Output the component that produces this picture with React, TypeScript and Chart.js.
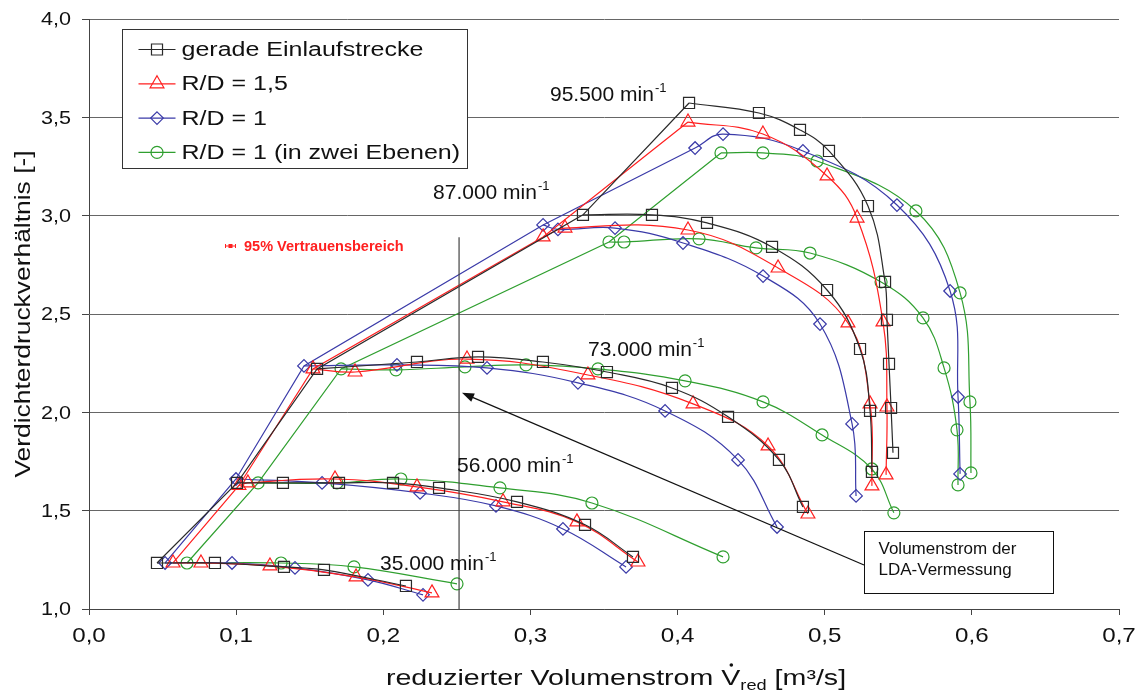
import React, { useEffect, useRef } from 'react';
import { Chart, registerables } from 'chart.js';

Chart.register(...registerables);

type P = [number, number];

// ---------------- data (x: reduced volume flow [m³/s], y: pressure ratio [-]) ----------------
// gerade Einlaufstrecke (black squares)
const gerade35: P[] = [[0.0462, 1.234], [0.0856, 1.234], [0.1325, 1.214], [0.1597, 1.199], [0.2154, 1.117]];
const gerade56: P[] = [[0.1006, 1.641], [0.1318, 1.641], [0.1699, 1.641], [0.2066, 1.641], [0.2379, 1.616], [0.2909, 1.545], [0.3371, 1.428], [0.3697, 1.265]];
const gerade73: P[] = [[0.155, 2.221], [0.2229, 2.256], [0.2644, 2.282], [0.3085, 2.256], [0.352, 2.205], [0.3962, 2.124], [0.4343, 1.977], [0.4689, 1.758], [0.4852, 1.519]];
const gerade87: P[] = [[0.3357, 3.004], [0.3826, 3.004], [0.42, 2.963], [0.4642, 2.841], [0.5016, 2.622], [0.524, 2.322], [0.5308, 2.007], [0.5321, 1.697]];
const gerade95: P[] = [[0.4078, 3.573], [0.4553, 3.522], [0.4832, 3.436], [0.5029, 3.329], [0.5294, 3.049], [0.541, 2.663], [0.5423, 2.47], [0.5437, 2.246], [0.5451, 2.022], [0.5464, 1.794]];

// R/D = 1,5 (red triangles)
const rd15_35: P[] = [[0.0571, 1.234], [0.0761, 1.234], [0.123, 1.219], [0.1815, 1.163], [0.2331, 1.082]];
const rd15_56: P[] = [[0.1019, 1.628], [0.108, 1.641], [0.1672, 1.661], [0.2229, 1.621], [0.2814, 1.545], [0.3316, 1.443], [0.3731, 1.239]];
const rd15_73: P[] = [[0.1522, 2.221], [0.1808, 2.205], [0.2569, 2.271], [0.3391, 2.19], [0.4105, 2.043], [0.4615, 1.829], [0.4886, 1.483]];
const rd15_87: P[] = [[0.3086, 2.892], [0.3235, 2.937], [0.4071, 2.927], [0.4683, 2.734], [0.5158, 2.455], [0.5308, 2.043], [0.5321, 1.626]];
const rd15_95: P[] = [[0.4071, 3.476], [0.458, 3.415], [0.5016, 3.202], [0.522, 2.988], [0.5396, 2.46], [0.5423, 2.027], [0.5417, 1.682]];

// R/D = 1 (blue diamonds)
const rd1_35: P[] = [[0.0517, 1.234], [0.0972, 1.234], [0.14, 1.209], [0.1896, 1.148], [0.227, 1.072]];
const rd1_56: P[] = [[0.0999, 1.661], [0.1584, 1.641], [0.225, 1.59], [0.2766, 1.524], [0.3221, 1.407], [0.365, 1.214]];
const rd1_73: P[] = [[0.1461, 2.236], [0.2093, 2.241], [0.2705, 2.226], [0.3323, 2.15], [0.3915, 2.007], [0.4411, 1.758], [0.4676, 1.417]];
const rd1_87: P[] = [[0.3086, 2.953], [0.3187, 2.93], [0.3575, 2.937], [0.4037, 2.861], [0.4581, 2.693], [0.4968, 2.449], [0.5186, 1.941], [0.5213, 1.575]];
const rd1_95: P[] = [[0.4119, 3.344], [0.4309, 3.415], [0.4852, 3.329], [0.5491, 3.054], [0.5852, 2.617], [0.5906, 2.078], [0.592, 1.687]];

// R/D = 1 (in zwei Ebenen) (green circles)
const rd1z_35: P[] = [[0.0666, 1.234], [0.1305, 1.234], [0.1801, 1.214], [0.2501, 1.128]];
const rd1z_56: P[] = [[0.1149, 1.641], [0.1685, 1.641], [0.212, 1.661], [0.2793, 1.616], [0.3418, 1.539], [0.4309, 1.265]];
const rd1z_73: P[] = [[0.1713, 2.221], [0.2086, 2.216], [0.2555, 2.231], [0.297, 2.241], [0.3459, 2.221], [0.4051, 2.16], [0.4581, 2.053], [0.4982, 1.885], [0.532, 1.712], [0.547, 1.489]];
const rd1z_87: P[] = [[0.3534, 2.866], [0.3636, 2.866], [0.4146, 2.882], [0.4533, 2.836], [0.49, 2.81], [0.5383, 2.663], [0.5668, 2.48], [0.5811, 2.226], [0.5899, 1.911], [0.5906, 1.631]];
const rd1z_95: P[] = [[0.4295, 3.319], [0.458, 3.319], [0.4948, 3.278], [0.562, 3.024], [0.592, 2.607], [0.5987, 2.053], [0.5994, 1.692]];

const seriesNames = ['gerade Einlaufstrecke', 'R/D = 1,5', 'R/D = 1', 'R/D = 1 (in zwei Ebenen)'];
const speedLabels = ['95.500 min', '87.000 min', '73.000 min', '56.000 min', '35.000 min'];
const xTickLabels = ['0,0', '0,1', '0,2', '0,3', '0,4', '0,5', '0,6', '0,7'];
const yTickLabels = ['1,0', '1,5', '2,0', '2,5', '3,0', '3,5', '4,0'];
const ldaLineX = [0.2515, 0.2515];
const ldaLineY = [2.89, 1.0];

// ---------------- styles / annotation placement ----------------
const FONT = "'Liberation Sans', Arial, Helvetica, sans-serif";
const STYLES = [
  { color: '#2a2a2a', point: 'rect', radius: 7.8 },
  { color: '#ff1f1f', point: 'triangle', radius: 8 },
  { color: '#3a3aa8', point: 'rectRot', radius: 6.3 },
  { color: '#2f9f2f', point: 'circle', radius: 6 },
];
const SPEED_POS: P[] = [[0.3133, 3.583], [0.2338, 3.085], [0.3391, 2.287], [0.2501, 1.697], [0.1978, 1.199]];
const ARROW_TIP: P = [0.2535, 2.099];
const ARROW_TAIL: P = [0.5267, 1.224];
const BOX = { x0: 0.5267, y0: 1.397, x1: 0.6551, y1: 1.082 };

function sText(
  ctx: CanvasRenderingContext2D, text: string, x: number, y: number,
  font: string, sx: number, align: 'left' | 'center' | 'right', color: string,
  baseline: CanvasTextBaseline = 'middle'
): number {
  ctx.save();
  ctx.font = font;
  ctx.fillStyle = color;
  ctx.textBaseline = baseline;
  ctx.textAlign = 'left';
  const w = ctx.measureText(text).width * sx;
  const x0 = align === 'left' ? x : align === 'center' ? x - w / 2 : x - w;
  ctx.translate(x0, y);
  ctx.scale(sx, 1);
  ctx.fillText(text, 0, 0);
  ctx.restore();
  return w;
}

function drawMarker(ctx: CanvasRenderingContext2D, style: string, x: number, y: number, r: number, color: string) {
  ctx.save();
  ctx.strokeStyle = color;
  ctx.lineWidth = 1.2;
  ctx.beginPath();
  if (style === 'rect') {
    const s = r * Math.SQRT1_2;
    ctx.rect(x - s, y - s, 2 * s, 2 * s);
  } else if (style === 'triangle') {
    for (let i = 0; i < 3; i++) {
      const a = (i * 2 * Math.PI) / 3;
      const px = x + Math.sin(a) * r;
      const py = y - Math.cos(a) * r;
      if (i === 0) ctx.moveTo(px, py); else ctx.lineTo(px, py);
    }
    ctx.closePath();
  } else if (style === 'rectRot') {
    ctx.moveTo(x, y - r); ctx.lineTo(x + r, y); ctx.lineTo(x, y + r); ctx.lineTo(x - r, y); ctx.closePath();
  } else {
    ctx.arc(x, y, r, 0, Math.PI * 2);
  }
  ctx.stroke();
  ctx.restore();
}

const overlayPlugin = {
  id: 'overlay',
  afterDraw(chart: any) {
    const ctx: CanvasRenderingContext2D = chart.ctx;
    const xs = chart.scales.x;
    const ys = chart.scales.y;
    const X = (v: number) => xs.getPixelForValue(v);
    const Y = (v: number) => ys.getPixelForValue(v);
    const area = chart.chartArea;

    // tick labels
    xs.ticks.forEach((t: any, i: number) => {
      sText(ctx, xTickLabels[i] ?? '', X(t.value), area.bottom + 27, `21px ${FONT}`, 1.15, 'center', '#111');
    });
    ys.ticks.forEach((t: any, i: number) => {
      sText(ctx, yTickLabels[i] ?? '', area.left - 18, Y(t.value) + 1.5, `18px ${FONT}`, 1.2, 'right', '#111');
    });

    // x title with V-dot and subscript
    {
      const mainF = `22px ${FONT}`;
      const subF = `14px ${FONT}`;
      const sx = 1.3;
      ctx.save();
      ctx.font = mainF;
      const w1 = ctx.measureText('reduzierter Volumenstrom ').width * sx;
      const wV = ctx.measureText('V').width * sx;
      const w3 = ctx.measureText(' [m³/s]').width * sx;
      ctx.font = subF;
      const w2 = ctx.measureText('red').width * sx;
      ctx.restore();
      const total = w1 + wV + w2 + w3;
      const cx = (area.left + area.right) / 2 + 12;
      const by = 685;
      let x = cx - total / 2;
      sText(ctx, 'reduzierter Volumenstrom ', x, by, mainF, sx, 'left', '#111', 'alphabetic');
      x += w1;
      sText(ctx, 'V', x, by, mainF, sx, 'left', '#111', 'alphabetic');
      ctx.save();
      ctx.fillStyle = '#111';
      ctx.beginPath();
      ctx.arc(x + wV / 2 + 0.5, by - 20, 1.8, 0, Math.PI * 2);
      ctx.fill();
      ctx.restore();
      x += wV;
      sText(ctx, 'red', x, by + 5, subF, sx, 'left', '#111', 'alphabetic');
      x += w2;
      sText(ctx, ' [m³/s]', x, by, mainF, sx, 'left', '#111', 'alphabetic');
    }

    // y title
    ctx.save();
    ctx.translate(24, (area.top + area.bottom) / 2);
    ctx.rotate(-Math.PI / 2);
    sText(ctx, 'Verdichterdruckverhältnis [-]', 0, 0, `22px ${FONT}`, 1.2, 'center', '#111');
    ctx.restore();

    // speed labels
    speedLabels.forEach((s, i) => {
      const [vx, vy] = SPEED_POS[i];
      const w = sText(ctx, s, X(vx), Y(vy), `21px ${FONT}`, 1.0, 'left', '#111', 'alphabetic');
      sText(ctx, '-1', X(vx) + w + 1, Y(vy) - 9, `13px ${FONT}`, 1.0, 'left', '#111', 'alphabetic');
    });

    // 95% Vertrauensbereich
    {
      const lx = area.left + 136;
      const ly = area.top + 227;
      ctx.save();
      ctx.strokeStyle = '#ff2020';
      ctx.fillStyle = '#ff2020';
      ctx.lineWidth = 1;
      ctx.beginPath();
      ctx.moveTo(lx, ly); ctx.lineTo(lx + 11, ly);
      ctx.moveTo(lx + 0.5, ly - 2); ctx.lineTo(lx + 0.5, ly + 2);
      ctx.moveTo(lx + 10.5, ly - 2); ctx.lineTo(lx + 10.5, ly + 2);
      ctx.stroke();
      ctx.fillRect(lx + 3.5, ly - 2, 4, 4);
      ctx.restore();
      sText(ctx, '95% Vertrauensbereich', lx + 19, ly + 1, `bold 14.5px ${FONT}`, 1.0, 'left', '#ff2020');
    }

    // arrow
    {
      const tx = X(ARROW_TIP[0]), ty = Y(ARROW_TIP[1]);
      const fx = X(ARROW_TAIL[0]), fy = Y(ARROW_TAIL[1]);
      const ang = Math.atan2(ty - fy, tx - fx);
      const L = 12, H = 4.5;
      ctx.save();
      ctx.strokeStyle = '#111';
      ctx.fillStyle = '#111';
      ctx.lineWidth = 1.2;
      ctx.beginPath();
      ctx.moveTo(fx, fy);
      ctx.lineTo(tx - Math.cos(ang) * L * 0.8, ty - Math.sin(ang) * L * 0.8);
      ctx.stroke();
      ctx.beginPath();
      ctx.moveTo(tx, ty);
      ctx.lineTo(tx - Math.cos(ang) * L - Math.sin(ang) * H, ty - Math.sin(ang) * L + Math.cos(ang) * H);
      ctx.lineTo(tx - Math.cos(ang) * L + Math.sin(ang) * H, ty - Math.sin(ang) * L - Math.cos(ang) * H);
      ctx.closePath();
      ctx.fill();
      ctx.restore();
    }

    // annotation box
    {
      const bx0 = Math.round(X(BOX.x0)) + 0.5, by0 = Math.round(Y(BOX.y0)) + 0.5;
      const bx1 = Math.round(X(BOX.x1)) + 0.5, by1 = Math.round(Y(BOX.y1)) + 0.5;
      ctx.save();
      ctx.fillStyle = '#fff';
      ctx.strokeStyle = '#111';
      ctx.lineWidth = 1;
      ctx.fillRect(bx0, by0, bx1 - bx0, by1 - by0);
      ctx.strokeRect(bx0, by0, bx1 - bx0, by1 - by0);
      ctx.restore();
      sText(ctx, 'Volumenstrom der', bx0 + 14, by0 + 18, `17px ${FONT}`, 1.0, 'left', '#111');
      sText(ctx, 'LDA-Vermessung', bx0 + 14, by0 + 39, `17px ${FONT}`, 1.0, 'left', '#111');
    }

    // legend
    {
      const lx0 = area.left + 33.5, ly0 = area.top + 10.5, lw = 345, lh = 139;
      ctx.save();
      ctx.fillStyle = '#fff';
      ctx.strokeStyle = '#333';
      ctx.lineWidth = 1;
      ctx.fillRect(lx0, ly0, lw, lh);
      ctx.strokeRect(lx0, ly0, lw, lh);
      ctx.restore();
      seriesNames.forEach((name, i) => {
        const st = STYLES[i];
        const yy = ly0 + 20 + i * 34.3;
        ctx.save();
        ctx.strokeStyle = st.color;
        ctx.lineWidth = 1.2;
        ctx.beginPath();
        ctx.moveTo(lx0 + 16, yy);
        ctx.lineTo(lx0 + 53, yy);
        ctx.stroke();
        ctx.restore();
        drawMarker(ctx, st.point, lx0 + 34.5, yy, st.radius, st.color);
        sText(ctx, name, lx0 + 59, yy + 1, `20px ${FONT}`, 1.25, 'left', '#111');
      });
    }
  },
};

export default function App() {
  const ref = useRef<HTMLCanvasElement | null>(null);
  useEffect(() => {
    document.body.style.margin = '0';
    const canvas = ref.current;
    if (!canvas) return;
    const groups: P[][][] = [
      [gerade35, gerade56, gerade73, gerade87, gerade95],
      [rd15_35, rd15_56, rd15_73, rd15_87, rd15_95],
      [rd1_35, rd1_56, rd1_73, rd1_87, rd1_95],
      [rd1z_35, rd1z_56, rd1z_73, rd1z_87, rd1z_95],
    ];
    const datasets: any[] = [];
    datasets.push({
      label: 'LDA',
      data: ldaLineX.map((x, i) => ({ x, y: ldaLineY[i] })),
      borderColor: '#444',
      borderWidth: 1.2,
      pointRadius: 0,
      showLine: true,
      tension: 0,
    });
    groups.forEach((lines, gi) => {
      const st = STYLES[gi];
      lines.forEach((ln) => {
        datasets.push({
          label: seriesNames[gi],
          data: ln.map(([x, y]) => ({ x, y })),
          borderColor: st.color,
          backgroundColor: 'rgba(0,0,0,0)',
          pointBackgroundColor: 'rgba(0,0,0,0)',
          pointBorderColor: st.color,
          pointBorderWidth: 1.2,
          pointStyle: st.point,
          pointRadius: st.radius,
          borderWidth: 1.2,
          showLine: true,
          tension: 0.4,
          fill: false,
        });
      });
      datasets.push({
        label: seriesNames[gi] + ' (Pumpgrenze)',
        data: lines.map((ln) => ({ x: ln[0][0], y: ln[0][1] })),
        borderColor: st.color,
        borderWidth: 1.2,
        pointRadius: 0,
        showLine: true,
        tension: 0,
        fill: false,
      });
    });

    const chart = new Chart(canvas, {
      type: 'scatter',
      data: { datasets },
      options: {
        responsive: false,
        animation: false,
        layout: { padding: { top: 19, right: 17, left: 0, bottom: 0 } },
        plugins: { legend: { display: false }, tooltip: { enabled: false } },
        scales: {
          x: {
            type: 'linear',
            min: 0,
            max: 0.7,
            ticks: { stepSize: 0.1, display: false },
            grid: { drawOnChartArea: false, drawTicks: true, tickLength: 6, tickColor: '#444' },
            border: { display: true, color: '#444', width: 1 },
            afterFit: (s: any) => { s.height = 84; },
          },
          y: {
            type: 'linear',
            min: 1,
            max: 4,
            ticks: { stepSize: 0.5, display: false },
            grid: { color: '#666', lineWidth: 1, drawTicks: true, tickLength: 7, tickColor: '#444' },
            border: { display: true, color: '#444', width: 1 },
            afterFit: (s: any) => { s.width = 89; },
          },
        },
      } as any,
      plugins: [overlayPlugin],
    });
    return () => chart.destroy();
  }, []);
  return (
    <div style={{ width: 1136, height: 693, background: '#fff' }}>
      <canvas ref={ref} width={1136} height={693} style={{ display: 'block' }} />
    </div>
  );
}
